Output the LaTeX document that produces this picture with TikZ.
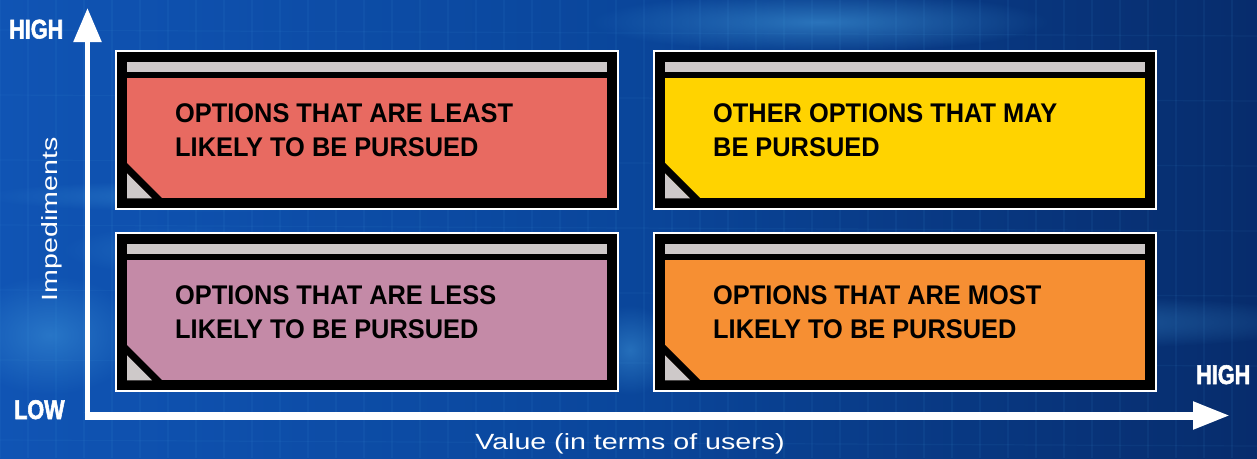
\documentclass[tikz,border=0pt]{standalone}
\usepackage{fontspec}
\setmainfont{Liberation Sans}
\newfontfamily\boxfont[FakeStretch=0.94]{Liberation Sans}
\newfontfamily\axisfont[FakeStretch=0.8,FakeBold=2]{Liberation Sans}
\newfontfamily\labelfont[FakeStretch=1.3]{Liberation Sans}
\usetikzlibrary{arrows.meta,fadings}
\tikzfading[name=softspot, inner color=transparent!0, outer color=transparent!100]
\definecolor{bgL}{RGB}{16,84,180}
\definecolor{bgM}{RGB}{10,70,155}
\definecolor{bgR}{RGB}{7,44,108}
\definecolor{glow}{RGB}{70,160,225}
\definecolor{redbox}{RGB}{232,106,97}
\definecolor{yellowbox}{RGB}{255,211,0}
\definecolor{pinkbox}{RGB}{196,138,167}
\definecolor{orangebox}{RGB}{246,143,51}
\definecolor{bargray}{RGB}{206,201,201}
\tikzset{
  boxtext/.style={anchor=north west, inner sep=0pt, align=left, text=black,
    font=\boxfont\bfseries\fontsize{27}{34}\selectfont},
  axislabel/.style={inner sep=0pt, text=white, font=\axisfont\bfseries\fontsize{27}{27}\selectfont},
  titlelabel/.style={inner sep=0pt, text=white, font=\labelfont\fontsize{22}{22}\selectfont},
  axisline/.style={draw=white, line cap=butt},
  glowspot/.style={fill=glow, path fading=softspot}
}
\newcommand{\optionbox}[5]{%
  % #1 x, #2 y, #3 colour, #4 name, #5 text
  \fill[white] (#1,#2) rectangle ++(504,160);
  \fill[black] (#1+1.7,#2+1.7) rectangle (#1+502.3,#2+158.3);
  \fill[bargray] (#1+12,#2+11.5) rectangle (#1+492,#2+22);
  \fill[#3] (#1+12,#2+28.3) rectangle (#1+492,#2+148.3);
  \fill[black] (#1+12,#2+113) -- (#1+47.3,#2+148.3) -- (#1+37,#2+148.3) -- (#1+12,#2+123.3) -- cycle;
  \fill[bargray] (#1+12,#2+123.3) -- (#1+37,#2+148.3) -- (#1+12,#2+148.3) -- cycle;
  \node[boxtext] (#4) at (#1+60,#2+53) {#5};
}
\begin{document}
\begin{tikzpicture}[x=1pt,y=-1pt]
\useasboundingbox (0,0) rectangle (1257,458);
% background
\shade[left color=bgL, right color=bgR, middle color=bgM] (0,0) rectangle (1257,458);
\fill[glowspot, opacity=0.55] (820,22) ellipse (230 and 30);
\fill[glowspot, opacity=0.45] (1010,322) ellipse (330 and 28);
\fill[glowspot, opacity=0.40] (210,196) ellipse (230 and 16);
\fill[glowspot, opacity=0.45] (50,335) ellipse (90 and 60);
\fill[glowspot, opacity=0.45] (630,350) ellipse (45 and 45);
\fill[glowspot, opacity=0.30] (180,250) ellipse (120 and 25);
\foreach \i in {0,...,45} \draw[glow, opacity=0.08, line width=1.2] (\i*28,0) -- (\i*28,458);
\foreach \j in {30,95,160,225,290,360,440} \draw[glow, opacity=0.08, line width=1.2] (0,\j) -- (1257,\j+6);
% boxes
\optionbox{115}{50}{redbox}{least}{OPTIONS THAT ARE LEAST\\LIKELY TO BE PURSUED}
\optionbox{653}{50}{yellowbox}{other}{OTHER OPTIONS THAT MAY\\BE PURSUED}
\optionbox{115}{232}{pinkbox}{less}{OPTIONS THAT ARE LESS\\LIKELY TO BE PURSUED}
\optionbox{653}{232}{orangebox}{most}{OPTIONS THAT ARE MOST\\LIKELY TO BE PURSUED}
% axes
\coordinate (ybot) at (87.5,419.5);
\coordinate (ytip) at (87.5,8);
\coordinate (xleft) at (84.5,415.5);
\coordinate (xtip) at (1230,415.5);
\draw[axisline, line width=5.5, -{Triangle[width=27,length=34]}] (ybot) -- (ytip);
\draw[axisline, line width=8, -{Triangle[width=26,length=37]}] (xleft) -- (xtip);
% labels
\node[axislabel, anchor=base west] (high1) at (9,38.5) {HIGH};
\node[axislabel, anchor=base west] (low) at (14,419) {LOW};
\node[axislabel, anchor=base west] (high2) at (1196,384) {HIGH};
\node[titlelabel, anchor=base, rotate=90] (imped) at (57,219.5) {Impediments};
\node[titlelabel, anchor=base] (value) at (630,449) {Value (in terms of users)};
\end{tikzpicture}
\end{document}
